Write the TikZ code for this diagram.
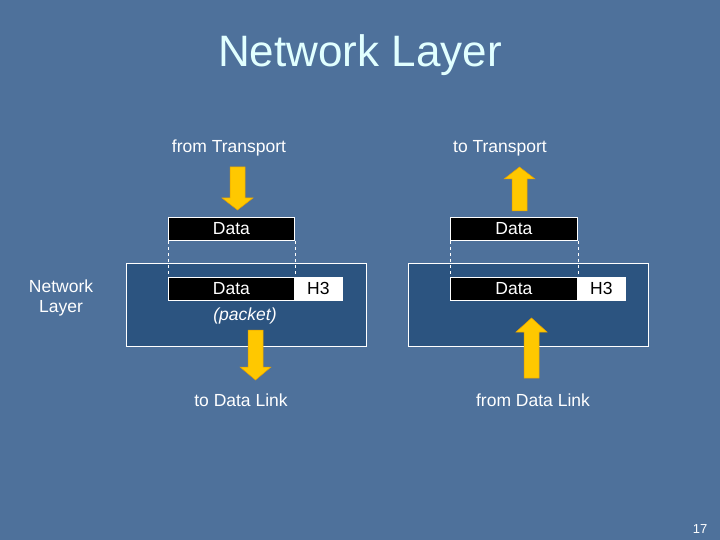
\documentclass[tikz,border=0pt]{standalone}
\usepackage{fontspec}
\setmainfont{Liberation Sans}
\begin{document}
\begin{tikzpicture}[x=1pt,y=-1pt,
  lbl/.style={text=white,font=\fontsize{17.5}{20}\selectfont,inner sep=0pt},
  blk/.style={fill=black,draw=white,line width=0.8pt,minimum height=23pt,inner sep=0pt,text=white,font=\fontsize{17.5}{20}\selectfont,anchor=north west},
  hdr/.style={fill=white,draw=white,line width=0.8pt,minimum height=23pt,minimum width=48pt,inner sep=0pt,text=black,font=\fontsize{17.5}{20}\selectfont,anchor=north west},
  layerbox/.style={fill=boxblue,draw=white,line width=0.8pt,minimum width=240pt,minimum height=83pt,inner sep=0pt,anchor=north west},
  yarrow/.style={fill=arrowyellow,draw=arrowedge,line width=0.5pt},
  dashline/.style={draw=white,dashed,line width=0.6pt}]
\definecolor{bg}{RGB}{78,113,155}
\definecolor{boxblue}{RGB}{44,84,128}
\definecolor{arrowyellow}{RGB}{255,200,0}
\definecolor{arrowedge}{RGB}{230,160,0}
\definecolor{titlecol}{RGB}{225,255,255}
\fill[bg] (0,0) rectangle (720,540);
\useasboundingbox (0,0) rectangle (720,540);
% title
\node (title) [text=titlecol,font=\fontsize{44}{50}\selectfont,inner sep=0pt] at (360,55) {Network Layer};
% side label
\node (side) [lbl,align=center] at (61,298) {Network\\Layer};
% boxes
\node (lbox) [layerbox] at (126,263) {};
\node (rbox) [layerbox] at (408,263) {};
% left stack
\node (ltop) [blk,minimum width=126pt] at (168,217) {Data};
\node (lbot) [blk,minimum width=126pt] at (168,277) {Data};
\node (lh3) [hdr] at (294,277) {H3};
\draw[dashline] (ltop.south west) -- (lbot.north west);
\draw[dashline] (ltop.south east) -- (lbot.north east);
\node (packet) [lbl,font=\fontsize{17.5}{20}\selectfont\itshape] at (245,316) {(packet)};
% right stack
\node (rtop) [blk,minimum width=127pt] at (450,217) {Data};
\node (rbot) [blk,minimum width=127pt] at (450,277) {Data};
\node (rh3) [hdr] at (577,277) {H3};
\draw[dashline] (rtop.south west) -- (rbot.north west);
\draw[dashline] (rtop.south east) -- (rbot.north east);
% labels
\node (fromT) [lbl] at (229,148) {from Transport};
\node (toT) [lbl] at (500,148) {to Transport};
\node (toDL) [lbl] at (241,400) {to Data Link};
\node (fromDL) [lbl] at (533,400) {from Data Link};
\node (pg) [lbl,font=\fontsize{13}{15}\selectfont] at (700,529) {17};
% arrows
\draw[yarrow] (230,167) -- (245,167) -- (245,198) -- (253,198) -- (237.5,210) -- (222,198) -- (230,198) -- cycle;
\draw[yarrow] (512,211) -- (527,211) -- (527,179) -- (535,179) -- (519.5,167) -- (504,179) -- (512,179) -- cycle;
\draw[yarrow] (248,330) -- (263,330) -- (263,367) -- (271,367) -- (255.5,380) -- (240,367) -- (248,367) -- cycle;
\draw[yarrow] (524,378) -- (539,378) -- (539,332) -- (547,332) -- (531.5,318) -- (516,332) -- (524,332) -- cycle;
\end{tikzpicture}
\end{document}
